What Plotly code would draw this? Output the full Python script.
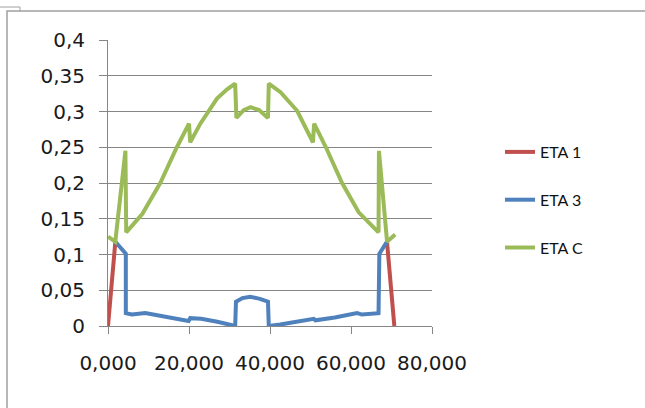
import plotly.graph_objects as go

# ---- data ----
eta1_x = [0, 1.8, None, 68.9, 70.7]
eta1_y = [0, 0.117, None, 0.117, 0]

eta3_x = [1.5, 4.4, 4.4, 5.9, 9.2, 14.5, 19.9, 20.3, 23.0, 27.0, 31.4, 31.6, 33.2, 35.1, 37.5, 39.5, 39.7,
          42.5, 46.7, 50.8, 51.2, 56.0, 61.5, 62.7, 66.8, 67.0, 68.9]
eta3_y = [0.120, 0.101, 0.018, 0.016, 0.018, 0.013, 0.007, 0.011, 0.010, 0.006, 0.000, 0.034, 0.039, 0.041, 0.038, 0.034, 0.000,
          0.002, 0.006, 0.010, 0.008, 0.012, 0.018, 0.016, 0.018, 0.101, 0.118]

etac_x = [0, 1.8, 4.3, 4.5, 8.5, 12.9, 17.0, 20.0, 20.3, 22.8, 26.9, 29.4, 31.4, 31.7, 33.5, 35.2, 37.3, 39.5,
          39.7, 42.6, 46.7, 50.6, 50.9, 53.8, 57.8, 61.9, 66.8, 66.9, 68.9, 70.9]
etac_y = [0.125, 0.118, 0.245, 0.131, 0.157, 0.200, 0.250, 0.283, 0.257, 0.283, 0.318, 0.331, 0.339, 0.291, 0.302, 0.306, 0.302, 0.291,
          0.339, 0.327, 0.301, 0.257, 0.283, 0.250, 0.200, 0.159, 0.131, 0.245, 0.118, 0.128]

series_names = ["ETA 1", "ETA 3", "ETA C"]
series_colors = ["#C0504D", "#4F81BD", "#9BBB59"]

y_tickvals = [0, 0.05, 0.1, 0.15, 0.2, 0.25, 0.3, 0.35, 0.4]
y_ticktext = ["0", "0,05", "0,1", "0,15", "0,2", "0,25", "0,3", "0,35", "0,4"]
x_tickvals = [0, 20, 40, 60, 80]
x_ticktext = ["0,000", "20,000", "40,000", "60,000", "80,000"]

# ---- figure ----
W, H = 645, 408
L, R, T, B = 108, 213, 40, 82
pw, ph = W - L - R, H - T - B

def px_x(p):
    return (p - L) / pw

def px_y(p):
    return (H - B - p) / ph

fig = go.Figure()
for i, (xs, ys) in enumerate([(eta1_x, eta1_y), (eta3_x, eta3_y), (etac_x, etac_y)]):
    fig.add_trace(go.Scatter(
        x=xs, y=ys, mode="lines", name=series_names[i],
        line=dict(color=series_colors[i], width=4),
        connectgaps=False, legendgroup=series_names[i],
        hoverinfo="skip",
    ))

grid_col = "#868686"
tick_font = "DejaVu Sans, sans-serif"
leg_font = "Lato, Liberation Sans, sans-serif"

fig.update_layout(
    width=W, height=H,
    margin=dict(l=L, r=R, t=T, b=B, pad=0, autoexpand=False),
    paper_bgcolor="white", plot_bgcolor="white",
    showlegend=True,
    legend=dict(
        x=px_x(500), y=px_y(135), xanchor="left", yanchor="top",
        font=dict(family=leg_font, size=16, color="#111111"),
        tracegroupgap=24, bgcolor="rgba(0,0,0,0)",
    ),
    xaxis=dict(
        range=[0, 80], tickvals=x_tickvals, ticktext=x_ticktext,
        showgrid=False, zeroline=False, automargin=False,
        showline=True, linecolor=grid_col, linewidth=1,
        ticks="outside", ticklen=7, tickcolor=grid_col,
        tickfont=dict(family=tick_font, size=20, color="#1a1a1a"),
        ticklabelstandoff=12, fixedrange=True,
    ),
    yaxis=dict(
        range=[0, 0.4], tickvals=y_tickvals, ticktext=y_ticktext,
        showgrid=True, gridcolor=grid_col, gridwidth=1,
        zeroline=False, automargin=False,
        showline=True, linecolor=grid_col, linewidth=1,
        ticks="outside", ticklen=8, tickcolor=grid_col,
        tickfont=dict(family=tick_font, size=20, color="#1a1a1a"),
        ticklabelstandoff=10, fixedrange=True,
    ),
    shapes=[
        dict(type="path", xref="paper", yref="paper",
             path=f"M {px_x(7)},{px_y(420)} L {px_x(7)},{px_y(11)} L {px_x(650)},{px_y(11)}",
             line=dict(color="#A0A0A0", width=1.5)),
        dict(type="path", xref="paper", yref="paper",
             path=f"M {px_x(-2)},{px_y(7)} L {px_x(20)},{px_y(7)} L {px_x(20)},{px_y(11)}",
             line=dict(color="#A0A0A0", width=1)),
    ],
)

fig.write_html(
    "out.html",
    config={"displayModeBar": False, "staticPlot": True},
    post_script="document.body.style.margin='0px';document.body.style.overflow='hidden';",
)
